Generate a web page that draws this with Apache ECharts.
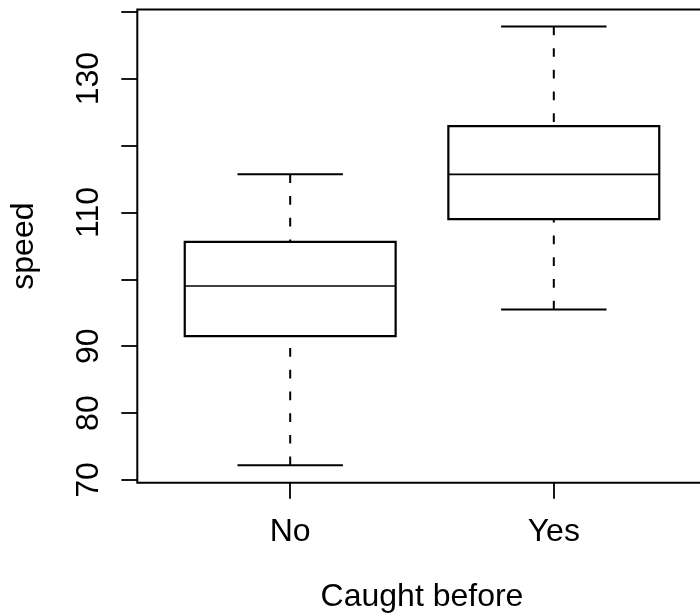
<!DOCTYPE html>
<html>
<head>
<meta charset="utf-8">
<script src="https://cdn.jsdelivr.net/npm/echarts@6/dist/echarts.min.js"></script>
<style>
  html, body { margin: 0; padding: 0; background: #fff; }
  #chart { width: 700px; height: 616px; }
</style>
</head>
<body>
<div id="chart"></div>
<script>
// Speed by whether the animal was caught before: five-number summaries per group
const categories = ['No', 'Yes'];
const lowerWhisker = [72.2, 95.5];
const lowerQuartile = [91.5, 109.0];
const median = [99.0, 115.7];
const upperQuartile = [105.6, 122.9];
const upperWhisker = [115.7, 137.8];

const yTickValues = [70, 80, 90, 100, 110, 120, 130, 140];
const yLabelValues = [70, 80, 90, 110, 130];

const FONT = "'Liberation Sans', Arial, sans-serif";

const boxData = categories.map((c, i) => [
  i + 1, lowerWhisker[i], lowerQuartile[i], median[i], upperQuartile[i], upperWhisker[i]
]);
const catPositions = categories.map((c, i) => i + 1);

function renderBox(params, api) {
  const x = api.value(0);
  const lo = api.coord([x, api.value(1)]);
  const q1 = api.coord([x, api.value(2)]);
  const md = api.coord([x, api.value(3)]);
  const q3 = api.coord([x, api.value(4)]);
  const hi = api.coord([x, api.value(5)]);
  const cx = md[0];
  const halfBox = api.size([0.4, 0])[0];
  const halfCap = api.size([0.2, 0])[0];
  const dash = { stroke: '#000', lineWidth: 2, lineDash: [8.7, 13], fill: null };
  const solid = { stroke: '#000', lineWidth: 2, fill: null };
  return {
    type: 'group',
    children: [
      // dashed whiskers run from each extreme toward the box
      { type: 'line', shape: { x1: cx, y1: hi[1], x2: cx, y2: q3[1] }, style: dash },
      { type: 'line', shape: { x1: cx, y1: lo[1], x2: cx, y2: q1[1] }, style: dash },
      { type: 'line', shape: { x1: cx - halfCap, y1: hi[1], x2: cx + halfCap, y2: hi[1] }, style: solid },
      { type: 'line', shape: { x1: cx - halfCap, y1: lo[1], x2: cx + halfCap, y2: lo[1] }, style: solid },
      {
        type: 'rect',
        shape: { x: cx - halfBox, y: q3[1], width: 2 * halfBox, height: q1[1] - q3[1] },
        style: { stroke: '#000', lineWidth: 2.2, fill: '#fff' }
      },
      { type: 'line', shape: { x1: cx - halfBox, y1: md[1], x2: cx + halfBox, y2: md[1] },
        style: { stroke: '#000', lineWidth: 1.7 } }
    ]
  };
}

const chart = echarts.init(document.getElementById('chart'), null, { renderer: 'canvas' });
chart.setOption({
  animation: false,
  backgroundColor: '#fff',
  grid: {
    show: true,
    left: 137.3,
    top: 9.5,
    width: 569.4,
    height: 473.2,
    outerBoundsMode: 'none',
    containLabel: false,
    borderColor: '#000',
    borderWidth: 2,
    backgroundColor: 'transparent'
  },
  xAxis: {
    type: 'value',
    min: 0.42,
    max: 2.58,
    name: 'Caught before',
    nameLocation: 'middle',
    nameGap: 98,
    nameTextStyle: { fontFamily: FONT, fontSize: 32, color: '#000' },
    axisLine: { show: false },
    splitLine: { show: false },
    axisTick: {
      show: true, inside: false, length: 16, customValues: catPositions,
      lineStyle: { color: '#000', width: 1.8 }
    },
    axisLabel: {
      customValues: catPositions,
      margin: 33,
      fontFamily: FONT, fontSize: 32, color: '#000',
      formatter: v => categories[Math.round(v) - 1]
    }
  },
  yAxis: {
    type: 'value',
    min: 69.6,
    max: 140.33,
    name: 'speed',
    nameLocation: 'middle',
    nameGap: 97,
    nameRotate: 90,
    nameTextStyle: { fontFamily: FONT, fontSize: 32, color: '#000' },
    axisLine: { show: false },
    splitLine: { show: false },
    axisTick: {
      show: true, inside: false, length: 16, customValues: yTickValues,
      lineStyle: { color: '#000', width: 1.8 }
    },
    axisLabel: {
      customValues: yLabelValues,
      rotate: 90,
      margin: 32,
      fontFamily: FONT, fontSize: 32, color: '#000'
    }
  },
  series: [{
    type: 'custom',
    renderItem: renderBox,
    data: boxData,
    encode: { x: 0, y: [1, 2, 3, 4, 5] }
  }]
});
</script>
</body>
</html>
